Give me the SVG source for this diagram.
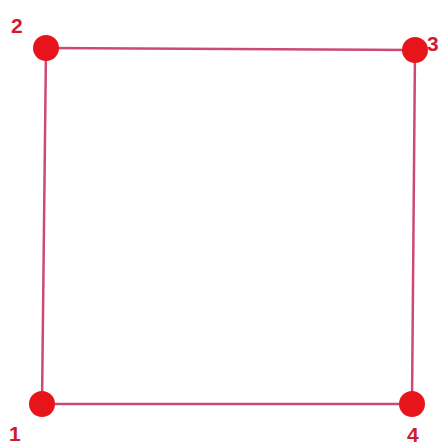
<svg xmlns="http://www.w3.org/2000/svg" width="441" height="446" viewBox="0 0 441 446">
<style>
.edge{stroke:#cc4a78;stroke-width:2.5;fill:none}
.dot{fill:#e8141c}
.lbl{font-family:"Liberation Sans",Arial,sans-serif;font-weight:bold;font-size:21px;fill:#d01a30}
</style>
<rect width="441" height="446" fill="#ffffff"/>
<g id="connectors">
<line class="edge" x1="42" y1="404" x2="46" y2="48"/>
<line class="edge" x1="46" y1="48" x2="415" y2="50"/>
<line class="edge" x1="415" y1="50" x2="412" y2="404"/>
<line class="edge" x1="412" y1="404" x2="42" y2="404"/>
</g>
<g id="node1"><circle class="dot" cx="42" cy="404" r="13"/><text class="lbl" x="9" y="441">1</text></g>
<g id="node2"><circle class="dot" cx="46" cy="48" r="13"/><text class="lbl" x="11" y="33">2</text></g>
<g id="node3"><circle class="dot" cx="415" cy="50" r="13"/><text class="lbl" x="427" y="51">3</text></g>
<g id="node4"><circle class="dot" cx="412" cy="404" r="13"/><text class="lbl" x="407" y="442">4</text></g>
</svg>
